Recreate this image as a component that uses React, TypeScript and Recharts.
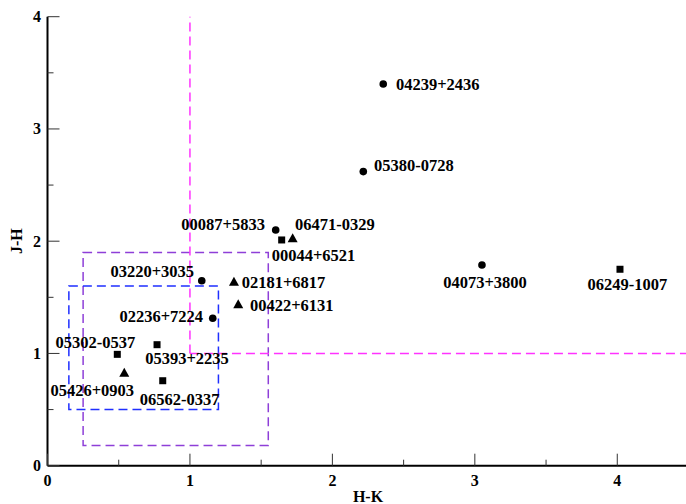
import { ScatterChart, Scatter, XAxis, YAxis, ReferenceLine, ReferenceArea } from 'recharts'

// colour indices (H-K on x, J-H on y)
const circleStars = [
  { name: '04239+2436', hk: 2.357, jh: 3.4 },
  { name: '05380-0728', hk: 2.217, jh: 2.62 },
  { name: '00087+5833', hk: 1.602, jh: 2.1 },
  { name: '03220+3035', hk: 1.083, jh: 1.648 },
  { name: '02236+7224', hk: 1.16, jh: 1.313 },
  { name: '04073+3800', hk: 3.05, jh: 1.788 },
]

const squareStars = [
  { name: '00044+6521', hk: 1.644, jh: 2.011 },
  { name: '06249-1007', hk: 4.019, jh: 1.75 },
  { name: '05302-0537', hk: 0.49, jh: 0.992 },
  { name: '05393+2235', hk: 0.769, jh: 1.078 },
  { name: '06562-0337', hk: 0.809, jh: 0.757 },
]

const triangleStars = [
  { name: '06471-0329', hk: 1.721, jh: 2.026 },
  { name: '02181+6817', hk: 1.309, jh: 1.639 },
  { name: '00422+6131', hk: 1.339, jh: 1.438 },
  { name: '05426+0903', hk: 0.539, jh: 0.829 },
]

const xTicks = [0, 0.5, 1, 1.5, 2, 2.5, 3, 3.5, 4, 4.5]
const yTicks = [0, 0.5, 1, 1.5, 2, 2.5, 3, 3.5, 4]

// where each name sits relative to its marker (px)
const labelPlacement: Record<string, { dx: number; dy: number; anchor: 'start' | 'middle' | 'end' }> = {
  '04239+2436': { dx: 12.7, dy: 0, anchor: 'start' },
  '05380-0728': { dx: 10.7, dy: -5.7, anchor: 'start' },
  '00087+5833': { dx: -10.7, dy: -5, anchor: 'end' },
  '06471-0329': { dx: 2.3, dy: -13.3, anchor: 'start' },
  '00044+6521': { dx: -10, dy: 15.7, anchor: 'start' },
  '03220+3035': { dx: -7.7, dy: -9, anchor: 'end' },
  '02181+6817': { dx: 7.7, dy: 0.3, anchor: 'start' },
  '00422+6131': { dx: 11.7, dy: 1.7, anchor: 'start' },
  '02236+7224': { dx: -9.7, dy: -2.3, anchor: 'end' },
  '04073+3800': { dx: 3, dy: 17.7, anchor: 'middle' },
  '06249-1007': { dx: 7.5, dy: 15.7, anchor: 'middle' },
  '05302-0537': { dx: -21.8, dy: -11.6, anchor: 'middle' },
  '05393+2235': { dx: 30, dy: 14.3, anchor: 'middle' },
  '05426+0903': { dx: -32, dy: 18, anchor: 'middle' },
  '06562-0337': { dx: 16.8, dy: 18.6, anchor: 'middle' },
}

const FONT = '"Liberation Serif", "DejaVu Serif", serif'
const isMajor = (v: number) => Math.abs(v - Math.round(v)) < 1e-6

function Marker(props: any) {
  const { cx, cy, payload, kind } = props
  if (cx == null || cy == null) return null
  const p = labelPlacement[payload.name] || { dx: 8, dy: 0, anchor: 'start' }
  let mark
  if (kind === 'circle') mark = <circle cx={cx} cy={cy} r={3.8} fill="#000" />
  else if (kind === 'square') mark = <rect x={cx - 3.5} y={cy - 3.5} width={7} height={7} fill="#000" />
  else mark = <path d={`M${cx},${cy - 5}L${cx + 5},${cy + 4}L${cx - 5},${cy + 4}Z`} fill="#000" />
  return (
    <g>
      {mark}
      <text
        x={cx + p.dx}
        y={cy + p.dy}
        textAnchor={p.anchor}
        dominantBaseline="central"
        fontFamily={FONT}
        fontWeight="bold"
        fontSize={16.5}
        fill="#000"
      >
        {payload.name}
      </text>
    </g>
  )
}

function BottomTick({ x, y, payload }: any) {
  const major = isMajor(payload.value)
  return (
    <g>
      <line x1={x} y1={y} x2={x} y2={y - (major ? 12 : 6)} stroke="#333" />
      {major && (
        <text x={x} y={y + 20} textAnchor="middle" fontFamily={FONT} fontWeight="bold" fontSize={16} fill="#000">
          {payload.value}
        </text>
      )}
    </g>
  )
}

function TopTick({ x, y, payload }: any) {
  const major = isMajor(payload.value)
  return <line x1={x} y1={y} x2={x} y2={y + (major ? 12 : 6)} stroke="#333" />
}

function LeftTick({ x, y, payload }: any) {
  const major = isMajor(payload.value)
  return (
    <g>
      <line x1={x} y1={y} x2={x + (major ? 12 : 6)} y2={y} stroke="#333" />
      {major && (
        <text x={x - 6.5} y={y + 5.5} textAnchor="end" fontFamily={FONT} fontWeight="bold" fontSize={16} fill="#000">
          {payload.value}
        </text>
      )}
    </g>
  )
}

function RightTick({ x, y, payload }: any) {
  const major = isMajor(payload.value)
  return <line x1={x} y1={y} x2={x - (major ? 12 : 6)} y2={y} stroke="#333" />
}

const frame = { stroke: '#000', strokeWidth: 2 }

export default function App() {
  return (
    <div style={{ position: 'absolute', left: 0, top: 0, width: 686, height: 504, overflow: 'hidden', background: '#fff' }}>
      <ScatterChart width={692} height={504} margin={{ top: 16.7, right: 3.5, bottom: 0, left: 0 }}>
        <XAxis
          xAxisId={0}
          dataKey="hk"
          type="number"
          domain={[0, 4.5]}
          ticks={xTicks}
          interval={0}
          allowDataOverflow
          height={38.3}
          tickSize={0}
          tickMargin={0}
          tickLine={false}
          tick={<BottomTick />}
          axisLine={frame}
          label={{ value: 'H-K', position: 'insideBottom', offset: 2, fontFamily: FONT, fontWeight: 'bold', fontSize: 16, fill: '#000' }}
        />
        <XAxis
          xAxisId="top"
          orientation="top"
          type="number"
          domain={[0, 4.5]}
          ticks={xTicks}
          interval={0}
          allowDataOverflow
          height={0}
          tickSize={0}
          tickMargin={0}
          tickLine={false}
          tick={<TopTick />}
          axisLine={frame}
        />
        <YAxis
          yAxisId={0}
          dataKey="jh"
          type="number"
          domain={[0, 4]}
          ticks={yTicks}
          interval={0}
          allowDataOverflow
          width={47.5}
          tickSize={0}
          tickMargin={0}
          tickLine={false}
          tick={<LeftTick />}
          axisLine={frame}
          label={({ viewBox }: any) => {
            const cx = 22.5
            const cy = viewBox.y + viewBox.height / 2
            return (
              <text
                x={cx}
                y={cy}
                transform={`rotate(-90 ${cx} ${cy})`}
                textAnchor="middle"
                fontFamily={FONT}
                fontWeight="bold"
                fontSize={16}
                fill="#000"
              >
                J-H
              </text>
            )
          }}
        />
        <YAxis
          yAxisId="right"
          orientation="right"
          type="number"
          domain={[0, 4]}
          ticks={yTicks}
          interval={0}
          allowDataOverflow
          width={0}
          tickSize={0}
          tickMargin={0}
          tickLine={false}
          tick={<RightTick />}
          axisLine={frame}
        />

        <ReferenceArea x1={0.25} x2={1.55} y1={0.18} y2={1.9} fill="none" fillOpacity={0} stroke="#8e3fd8" strokeWidth={1.5} strokeDasharray="9 5" ifOverflow="visible" />
        <ReferenceArea x1={0.15} x2={1.2} y1={0.5} y2={1.6} fill="none" fillOpacity={0} stroke="#1f2fff" strokeWidth={1.5} strokeDasharray="9 5" ifOverflow="visible" />
        <ReferenceLine segment={[{ x: 1, y: 1 }, { x: 1, y: 4 }]} stroke="#ff33ff" strokeWidth={1.5} strokeDasharray="9 5" />
        <ReferenceLine segment={[{ x: 1, y: 1 }, { x: 4.5, y: 1 }]} stroke="#ff33ff" strokeWidth={1.5} strokeDasharray="9 5" />

        <Scatter data={circleStars} isAnimationActive={false} shape={(p: any) => <Marker {...p} kind="circle" />} />
        <Scatter data={squareStars} isAnimationActive={false} shape={(p: any) => <Marker {...p} kind="square" />} />
        <Scatter data={triangleStars} isAnimationActive={false} shape={(p: any) => <Marker {...p} kind="triangle" />} />
      </ScatterChart>
    </div>
  )
}
